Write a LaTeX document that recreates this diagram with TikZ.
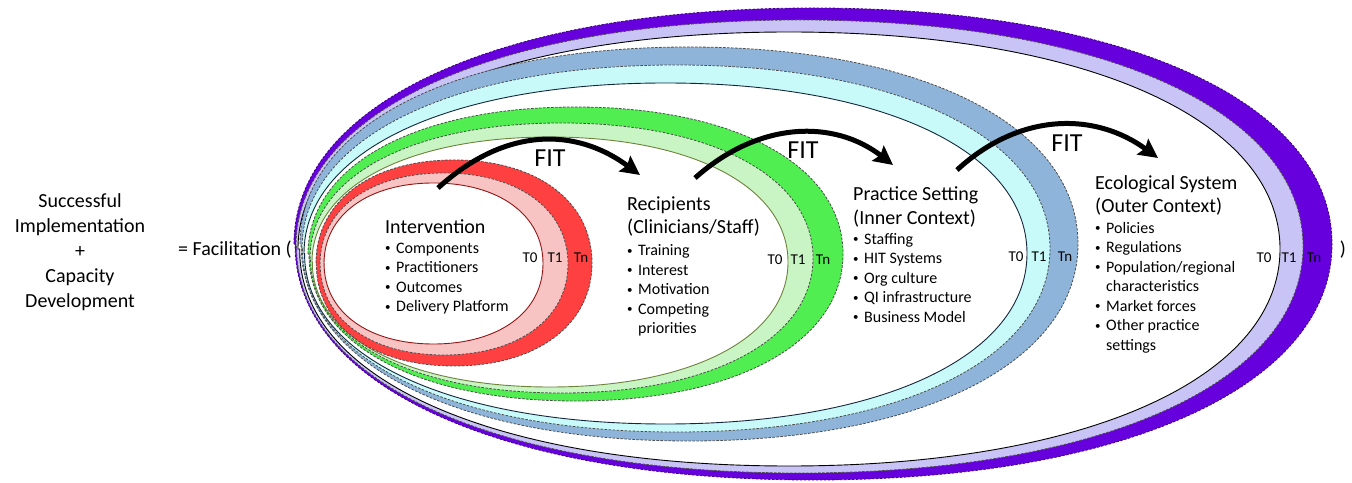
\documentclass[tikz,border=0pt]{standalone}
\usepackage{fontspec}
\setmainfont{Carlito}
\usepackage{tikz}
\usetikzlibrary{arrows.meta}
\definecolor{PurpleTn}{RGB}{102,0,221}
\definecolor{PurpleTone}{RGB}{200,196,245}
\definecolor{BlueTn}{RGB}{143,180,218}
\definecolor{BlueTone}{RGB}{200,250,250}
\definecolor{BlueLine}{RGB}{20,40,60}
\definecolor{GreenTn}{RGB}{80,238,80}
\definecolor{GreenTone}{RGB}{200,245,195}
\definecolor{GreenLine}{RGB}{110,130,60}
\definecolor{RedTn}{RGB}{255,64,64}
\definecolor{RedTone}{RGB}{247,195,195}
\definecolor{RedLine}{RGB}{150,20,20}
\lineskiplimit=-20pt
\newcommand{\eggpath}{(-1,0) .. controls (-1,0.6) and (-0.6,1) .. (0,1) .. controls (0.6,1) and (1,0.6) .. (1,0) .. controls (1,-0.6) and (0.6,-1) .. (0,-1) .. controls (-0.6,-1) and (-1,-0.6) .. cycle}
\newcommand{\hdg}[1]{{\fontsize{20}{24}\selectfont #1}}
\newcommand{\bul}{\makebox[11pt][l]{\raisebox{1.5pt}{\fontsize{11}{11}\selectfont\textbullet}}}
\newcommand{\cont}{\hspace*{11pt}}
\tikzset{
  egg/.style n args={4}{shift={(#1,#2)},xscale=#3,yscale=#4},
  tband/.style={draw=black!70,dash pattern=on 2.5pt off 1.5pt,line width=0.8pt},
  tzero/.style={fill=white,line width=0.9pt},
  tlab/.style={inner sep=0pt,font=\fontsize{15}{15}\selectfont},
  fitlab/.style={inner sep=0pt,font=\fontsize{26}{26}\selectfont},
  fitarrow/.style={line width=5pt,-{Stealth[length=19pt,width=19pt,inset=3pt]}},
  lhs/.style={inner sep=0pt,align=center,font=\fontsize{20}{25}\selectfont},
  blk/.style={anchor=north west,inner sep=0pt,align=left,font=\fontsize{16}{19.5}\selectfont},
}

\begin{document}
\begin{tikzpicture}[x=1pt,y=1pt]
\useasboundingbox (0,0) rectangle (1352,482);
\draw[tband,draw=PurpleTn!60!black,fill=PurpleTn,egg={813}{238}{519}{236}] \eggpath;
\draw[tband,fill=PurpleTone,egg={799.5}{235.5}{503.5}{226.5}] \eggpath;
\draw[tzero,draw=black,egg={789}{233}{491}{217}] \eggpath;
\draw[tband,fill=BlueTn,egg={689}{238}{389}{197}] \eggpath;
\draw[tband,fill=BlueTone,egg={676}{233.5}{374}{183.5}] \eggpath;
\draw[tzero,draw=BlueLine,egg={665.5}{228.5}{361.5}{170.5}] \eggpath;
\draw[tband,fill=GreenTn,egg={575.5}{228}{267.5}{147}] \eggpath;
\draw[tband,fill=GreenTone,egg={561.5}{224}{251.5}{135}] \eggpath;
\draw[tzero,draw=GreenLine,egg={550}{220}{238}{125}] \eggpath;
\draw[tband,fill=RedTn,egg={454}{219}{138}{103}] \eggpath;
\draw[tband,fill=RedTone,egg={444}{218}{124}{91}] \eggpath;
\draw[tzero,draw=RedLine,egg={433.5}{218.5}{109.5}{80.5}] \eggpath;

\node[lhs] (succ) at (80,230) {Successful\\Implementation\\+\\Capacity\\Development};
\node[lhs,anchor=west] (facil) at (178,232) {= Facilitation (};
\node[lhs] (close) at (1343,232) {)};

\node[tlab] (rT0) at (530,224) {T0};
\node[tlab] (rT1) at (555,224) {T1};
\node[tlab] (rTn) at (581,224) {Tn};
\node[tlab] (gT0) at (775,222) {T0};
\node[tlab] (gT1) at (798,222) {T1};
\node[tlab] (gTn) at (823,222) {Tn};
\node[tlab] (bT0) at (1016,225) {T0};
\node[tlab] (bT1) at (1039,225) {T1};
\node[tlab] (bTn) at (1065,225) {Tn};
\node[tlab] (pT0) at (1264,224) {T0};
\node[tlab] (pT1) at (1289,224) {T1};
\node[tlab] (pTn) at (1314,224) {Tn};

\node[blk] (interv) at (385,263) {\hdg{Intervention}\\[0.5pt]
  \bul Components\\ \bul Practitioners\\ \bul Outcomes\\ \bul Delivery Platform};
\node[blk] (recip) at (627,285) {\hdg{Recipients}\\[3.5pt]\hdg{(Clinicians/Staff)}\\[2.5pt]
  \bul Training\\ \bul Interest\\ \bul Motivation\\ \bul Competing\\ \cont priorities};
\node[blk] (practice) at (853,296) {\hdg{Practice Setting}\\[4.5pt]\hdg{(Inner Context)}\\[0.5pt]
  \bul Staffing\\ \bul HIT Systems\\ \bul Org culture\\ \bul QI infrastructure\\ \bul Business Model};
\node[blk] (ecol) at (1095,307) {\hdg{Ecological System}\\[3.5pt]\hdg{(Outer Context)}\\[1.5pt]
  \bul Policies\\ \bul Regulations\\ \bul Population/regional\\ \cont characteristics\\ \bul Market forces\\ \bul Other practice\\ \cont settings};

\coordinate (fitAs) at (438,294);
\coordinate (fitAe) at (640,307);
\coordinate (fitBs) at (695,304);
\coordinate (fitBe) at (893,317);
\coordinate (fitCs) at (957,312);
\coordinate (fitCe) at (1158,324);
\draw[fitarrow] (fitAs) .. controls (505,355) and (575,355) .. (fitAe);
\draw[fitarrow] (fitBs) .. controls (760,362) and (835,362) .. (fitBe);
\draw[fitarrow] (fitCs) .. controls (1020,370) and (1095,370) .. (fitCe);
\node[fitlab] (fitA) at (550,324) {FIT};
\node[fitlab] (fitB) at (803,332) {FIT};
\node[fitlab] (fitC) at (1067,339) {FIT};
\end{tikzpicture}
\end{document}
